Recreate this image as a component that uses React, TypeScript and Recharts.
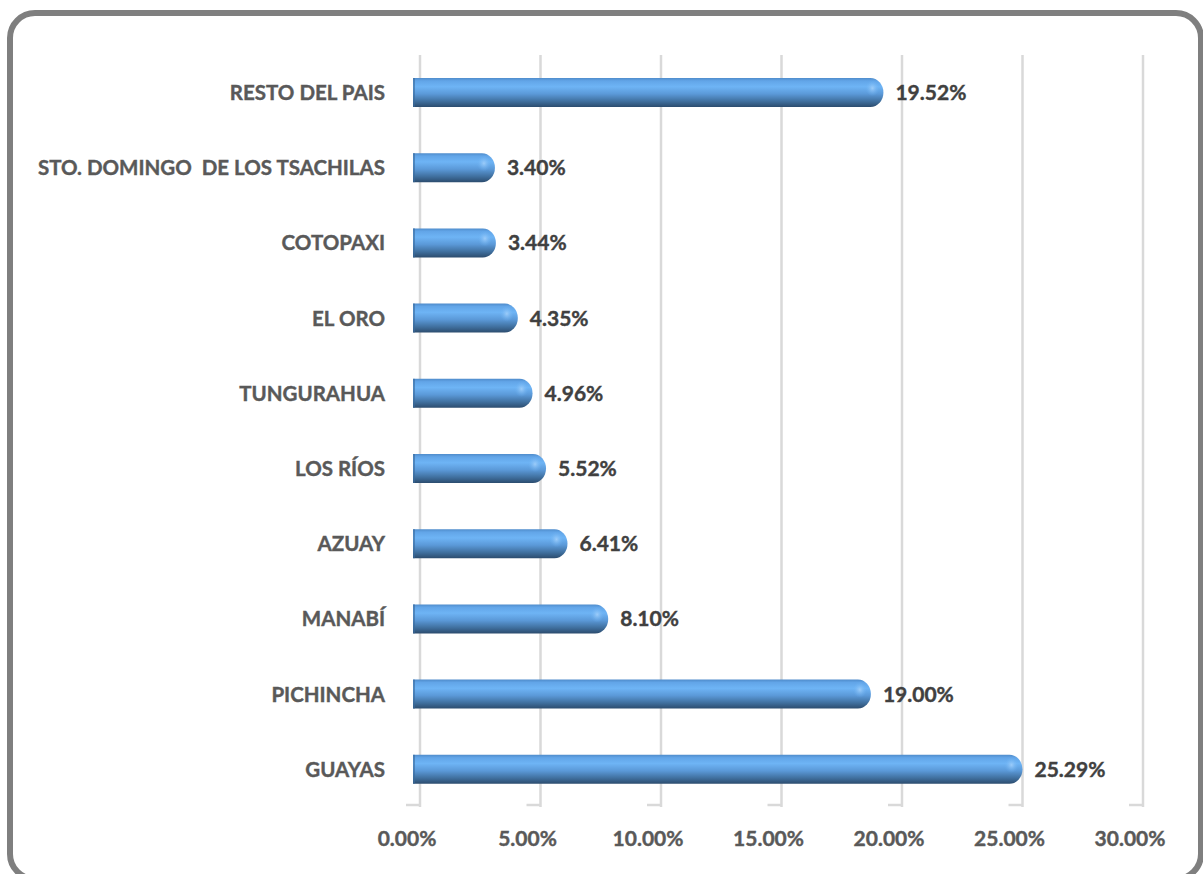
import React from "react"
import { BarChart, Bar, XAxis, YAxis, CartesianGrid, LabelList } from "recharts"

// top to bottom, as drawn
const provinces = [
  "RESTO DEL PAIS",
  "STO. DOMINGO  DE LOS TSACHILAS",
  "COTOPAXI",
  "EL ORO",
  "TUNGURAHUA",
  "LOS RÍOS",
  "AZUAY",
  "MANABÍ",
  "PICHINCHA",
  "GUAYAS",
]
const shares = [19.52, 3.4, 3.44, 4.35, 4.96, 5.52, 6.41, 8.1, 19.0, 25.29]
const xTicks = [0, 5, 10, 15, 20, 25, 30]

const data = provinces.map((name, i) => ({ name, value: shares[i] }))

const FONT = "Lato, 'Open Sans', sans-serif"
const SHIFT = 7 // 3d depth: bars sit in front of the back wall grid

const fmt = (v: number) => v.toFixed(2) + "%"

function Cylinder(props: any) {
  const { x, y, width, height } = props
  if (!width) return null
  const x0 = x - SHIFT
  const r = height / 2
  const rx = 13
  const end = x0 + width
  const d = `M${x0},${y} H${end - rx} A${rx},${r} 0 0 1 ${end - rx},${y + height} H${x0} Z`
  return (
    <g>
      <path d={d} fill="url(#cyl)" />
      <ellipse cx={end - rx + 2} cy={y + height * 0.35} rx={7} ry={8} fill="url(#capGlow)" />
      <rect x={x0} y={y} width={2} height={height} fill="#3a6a9c" opacity={0.6} />
    </g>
  )
}

function ValueLabel(props: any) {
  const { x, y, width, height, value } = props
  return (
    <text
      x={x + width + 5}
      y={y + height / 2}
      dy="0.36em"
      fill="#404040"
      stroke="#404040"
      strokeWidth={0.4}
      fontFamily={FONT}
      fontWeight={700}
      fontSize={21}
    >
      {fmt(value)}
    </text>
  )
}

function CatTick(props: any) {
  const { x, y, payload } = props
  return (
    <text
      x={x}
      y={y}
      dy="0.36em"
      textAnchor="end"
      fill="#595959"
      stroke="#595959"
      strokeWidth={0.4}
      fontFamily={FONT}
      fontWeight={700}
      fontSize={20.5}
      style={{ whiteSpace: "pre" }}
    >
      {payload.value}
    </text>
  )
}

function PctTick(props: any) {
  const { x, y, payload } = props
  return (
    <g>
      <path d={`M${x},${y - 2} H${x - 14}`} stroke="#d9d9d9" strokeWidth={2.5} fill="none" />
      <text
        x={x - 13}
        y={y + 31}
        dy="0.36em"
        textAnchor="middle"
        fill="#595959"
        stroke="#595959"
        strokeWidth={0.4}
        fontFamily={FONT}
        fontWeight={700}
        fontSize={21}
      >
        {fmt(payload.value)}
      </text>
    </g>
  )
}

export default function App() {
  return (
    <div
      style={{
        position: "fixed",
        left: 0,
        top: 0,
        width: 1203,
        height: 874,
        overflow: "hidden",
        background: "#fff",
      }}
    >
      <div
        style={{
          position: "absolute",
          left: 7,
          top: 10,
          width: 1197,
          height: 872,
          boxSizing: "border-box",
          border: "6px solid #7f7f7f",
          borderRadius: 28,
        }}
      />
      <div style={{ position: "absolute", left: 0, top: 0 }}>
        <BarChart
          width={1203}
          height={874}
          data={data}
          layout="vertical"
          margin={{ top: 55, right: 60, bottom: 17, left: 0 }}
          barSize={29}
        >
          <defs>
            <linearGradient id="cyl" x1="0" y1="0" x2="0" y2="1">
              <stop offset="0%" stopColor="#4f8ccb" />
              <stop offset="10%" stopColor="#62a5e8" />
              <stop offset="30%" stopColor="#6eb4f5" />
              <stop offset="55%" stopColor="#5b99d8" />
              <stop offset="80%" stopColor="#40709f" />
              <stop offset="100%" stopColor="#2c4c6e" />
            </linearGradient>
            <radialGradient id="capGlow">
              <stop offset="0%" stopColor="#a9d3fb" stopOpacity={0.8} />
              <stop offset="100%" stopColor="#6eb4f5" stopOpacity={0} />
            </radialGradient>
          </defs>
          <CartesianGrid horizontal={false} stroke="#d9d9d9" strokeWidth={2.5} />
          <XAxis
            type="number"
            domain={[0, 30]}
            ticks={xTicks}
            interval={0}
            axisLine={false}
            tickLine={false}
            tickSize={0}
            tickMargin={0}
            height={50}
            tick={<PctTick />}
          />
          <YAxis
            type="category"
            dataKey="name"
            width={420}
            axisLine={false}
            tickLine={false}
            tickSize={0}
            tickMargin={35}
            interval={0}
            tick={<CatTick />}
          />
          <Bar dataKey="value" shape={<Cylinder />} isAnimationActive={false}>
            <LabelList dataKey="value" content={<ValueLabel />} />
          </Bar>
        </BarChart>
      </div>
    </div>
  )
}
